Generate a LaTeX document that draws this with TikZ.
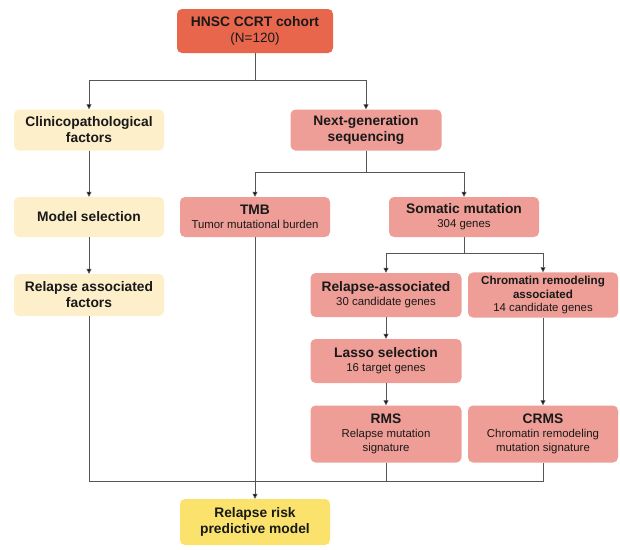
\documentclass[tikz,border=0pt]{standalone}
\usepackage{fontspec}
\setmainfont{Liberation Sans}
\usetikzlibrary{arrows.meta}

\definecolor{cohortred}{HTML}{E8664C}
\definecolor{seqpink}{HTML}{EE9E96}
\definecolor{clinyellow}{HTML}{FCEFCA}
\definecolor{riskyellow}{HTML}{FBE26C}
\definecolor{linegray}{HTML}{555555}

\newcommand{\boxhead}[1]{{\bfseries\fontsize{13.8}{16}\selectfont #1}}
\newcommand{\smallhead}[1]{{\bfseries\fontsize{11.6}{14}\selectfont #1}}

\tikzset{
  box/.style={rounded corners=5pt, align=center, minimum width=150pt, text=black!90,
    font=\fontsize{11.4}{13.8}\selectfont},
  title/.style={font=\bfseries\fontsize{13.8}{16}\selectfont},
  link/.style={draw=linegray, line width=0.8pt},
}

\begin{document}
\begin{tikzpicture}[>={Triangle[length=5pt,width=5pt,fill=black]}, x=1pt, y=-1pt]
    \useasboundingbox (0,0) rectangle (620,549);

    % Nodes for the cohort and the clinical branch
    \node[box, fill=cohortred, minimum width=156pt, minimum height=44pt] (cohort) at (255,31)
      {\boxhead{HNSC CCRT cohort}\\[2.5pt]{\fontsize{13.5}{15}\selectfont(N=120)}};
    \node[box, title, fill=clinyellow, minimum height=41pt] (clin) at (89,130) {Clinicopathological\\factors};
    \node[box, title, fill=clinyellow, minimum height=40pt] (model) at (89,217) {Model selection};
    \node[box, title, fill=clinyellow, minimum height=42pt] (relfac) at (89,295) {Relapse associated\\factors};

    % Nodes for the sequencing branch
    \node[box, title, fill=seqpink, minimum width=151pt, minimum height=41pt] (ngs) at (366,130) {Next-generation\\sequencing};
    \node[box, fill=seqpink, minimum height=40pt] (tmb) at (255,217)
      {\boxhead{TMB}\\Tumor mutational burden};
    \node[box, fill=seqpink, minimum height=40pt] (somatic) at (464,217)
      {\boxhead{Somatic mutation}\\304 genes};
    \node[box, fill=seqpink, minimum width=151pt, minimum height=44pt] (relassoc) at (386,295)
      {\boxhead{Relapse-associated}\\30 candidate genes};
    \node[box, fill=seqpink, minimum height=44pt] (chrom) at (543,295)
      {\smallhead{Chromatin remodeling}\\\smallhead{associated}\\14 candidate genes};
    \node[box, fill=seqpink, minimum width=151pt, minimum height=44pt] (lasso) at (386,361)
      {\boxhead{Lasso selection}\\16 target genes};
    \node[box, fill=seqpink, minimum width=151pt, minimum height=57pt] (rms) at (386,434)
      {\boxhead{RMS}\\Relapse mutation\\signature};
    \node[box, fill=seqpink, minimum height=57pt] (crms) at (543,434)
      {\boxhead{CRMS}\\Chromatin remodeling\\mutation signature};

    % Final model
    \node[box, title, fill=riskyellow, minimum height=46pt] (risk) at (255,522) {Relapse risk\\predictive model};

    % Splits
    \draw[link, ->] (cohort.south) -- ++(0,27) -| (clin.north);
    \draw[link, ->] (cohort.south) -- ++(0,27) -| (ngs.north);
    \draw[link, ->] (ngs.south) -- ++(0,22) -| (tmb.north);
    \draw[link, ->] (ngs.south) -- ++(0,22) -| (somatic.north);
    \draw[link, ->] (somatic.south) -- ++(0,16) -| (relassoc.north);
    \draw[link, ->] (somatic.south) -- ++(0,16) -| (chrom.north);

    % Straight steps
    \draw[link, ->] (clin) -- (model);
    \draw[link, ->] (model) -- (relfac);
    \draw[link, ->] (relassoc) -- (lasso);
    \draw[link, ->] (lasso) -- (rms);
    \draw[link, ->] (chrom) -- (crms);

    % Merge into the model
    \coordinate (mleft) at (89,481);
    \coordinate (mright) at (543,481);
    \draw[link] (relfac.south) -- (mleft) -- (mright) -- (crms.south);
    \draw[link] (rms.south) -- (rms.south |- mleft);
    \draw[link, ->] (tmb.south) -- (risk.north);
\end{tikzpicture}
\end{document}
